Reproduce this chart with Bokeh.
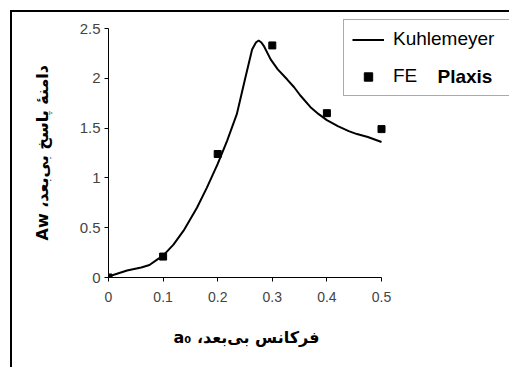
from bokeh.plotting import figure
from bokeh.models import (FixedTicker, Legend, LegendItem, Title, Range1d, InlineStyleSheet)
from bokeh.core.properties import value
from bokeh.embed import file_html
from bokeh.resources import INLINE

# Kuhlemeyer analytical response curve
a0_curve = [0.0, 0.034, 0.06, 0.075, 0.089, 0.1, 0.119, 0.1375, 0.162, 0.18, 0.2,
            0.217, 0.235, 0.25, 0.263, 0.27, 0.275, 0.28, 0.285, 0.297, 0.31,
            0.327, 0.34, 0.351, 0.37, 0.385, 0.4, 0.42, 0.44, 0.455, 0.475, 0.5]
aw_curve = [0.01, 0.07, 0.10, 0.125, 0.18, 0.22, 0.33, 0.47, 0.70, 0.90, 1.14,
            1.37, 1.64, 1.99, 2.29, 2.36, 2.38, 2.36, 2.32, 2.19, 2.09,
            1.99, 1.91, 1.83, 1.71, 1.64, 1.58, 1.52, 1.47, 1.44, 1.41, 1.36]

# Finite element (Plaxis) results
a0_fe = [0.0, 0.1, 0.2, 0.3, 0.4, 0.5]
aw_fe = [0.0, 0.21, 1.24, 2.33, 1.65, 1.49]

x_ticks = [0, 0.1, 0.2, 0.3, 0.4, 0.5]
x_tick_labels = ["0", "0.1", "0.2", "0.3", "0.4", "0.5"]
y_ticks = [0, 0.5, 1, 1.5, 2, 2.5]
y_tick_labels = ["0", "0.5", "1", "1.5", "2", "2.5"]

RLE, PDF = "\u202b", "\u202c"
x_title = RLE + "فرکانس بی\u200cبعد، a₀" + PDF
y_title = RLE + "دامنهٔ پاسخ بی\u200cبعد، Aw" + PDF

# black frame around the whole chart (top and left edges visible)
frame_css = InlineStyleSheet(css="""
:host::after {
  content: "";
  position: absolute;
  left: 10px; top: 10px; right: 0; bottom: 0;
  border-top: 2px solid #000;
  border-left: 2px solid #000;
  pointer-events: none;
}
""")

PX_PER_X = 546.0    # pixels per unit of a0
PX_PER_Y = 99.6     # pixels per unit of Aw

p = figure(width=509, height=367, output_backend="svg", toolbar_location=None,
           x_range=Range1d(0, 401 / PX_PER_X), y_range=Range1d(0, 265 / PX_PER_Y),
           min_border_left=108, min_border_right=0,
           min_border_top=12, min_border_bottom=90)
p.stylesheets = [frame_css]
p.outline_line_color = None
p.background_fill_color = "white"
p.border_fill_color = "white"
p.xgrid.visible = False
p.ygrid.visible = False

line_r = p.line(a0_curve, aw_curve, line_color="black", line_width=2)
pts_r = p.scatter(a0_fe, aw_fe, marker="square", size=7, color="black")

for ax, ticks, labels, bounds, fsize in ((p.xaxis[0], x_ticks, x_tick_labels, (0, 0.5), "14px"),
                                         (p.yaxis[0], y_ticks, y_tick_labels, (0, 2.5), "15px")):
    ax.ticker = FixedTicker(ticks=ticks, minor_ticks=[])
    ax.major_label_overrides = {t: l for t, l in zip(ticks, labels)}
    ax.bounds = bounds
    ax.axis_line_color = "black"
    ax.axis_line_width = 1
    ax.major_tick_line_color = "black"
    ax.major_tick_out = 4
    ax.major_tick_in = 0
    ax.minor_tick_line_color = None
    ax.major_label_text_font = "Liberation Sans"
    ax.major_label_text_font_size = fsize
    ax.major_label_text_color = "#444444"

p.xaxis.major_label_standoff = 10
p.yaxis.major_label_standoff = 4

# axis titles, placed along the bounded part of each axis
p.add_layout(Title(text=x_title, align="left", offset=65, standoff=42,
                   text_font="DejaVu Sans", text_font_style="bold",
                   text_font_size="16px", text_color="black"), "below")
p.add_layout(Title(text=y_title, align="left", offset=37, standoff=50,
                   text_font="DejaVu Sans", text_font_style="bold",
                   text_font_size="16px", text_color="black"), "left")

legend = Legend(items=[LegendItem(label="Kuhlemeyer", renderers=[line_r]),
                       LegendItem(label="FE", renderers=[pts_r])],
                location=(235, 181), padding=8, spacing=15,
                glyph_width=32, glyph_height=21, label_height=21,
                label_width=108, label_standoff=9, margin=0,
                label_text_font="Liberation Sans", label_text_font_size="19px",
                label_text_color="black",
                border_line_color="#555555", border_line_width=1,
                background_fill_alpha=0)
p.add_layout(legend, "center")

# software name written next to the FE entry
p.text(x=[329 / PX_PER_X], y=[201 / PX_PER_Y], text=["Plaxis"],
       text_font=value("Liberation Sans"), text_font_style="bold",
       text_font_size="19px", text_baseline="middle", text_color="black")

open("out.html", "w").write(file_html(p, INLINE))
